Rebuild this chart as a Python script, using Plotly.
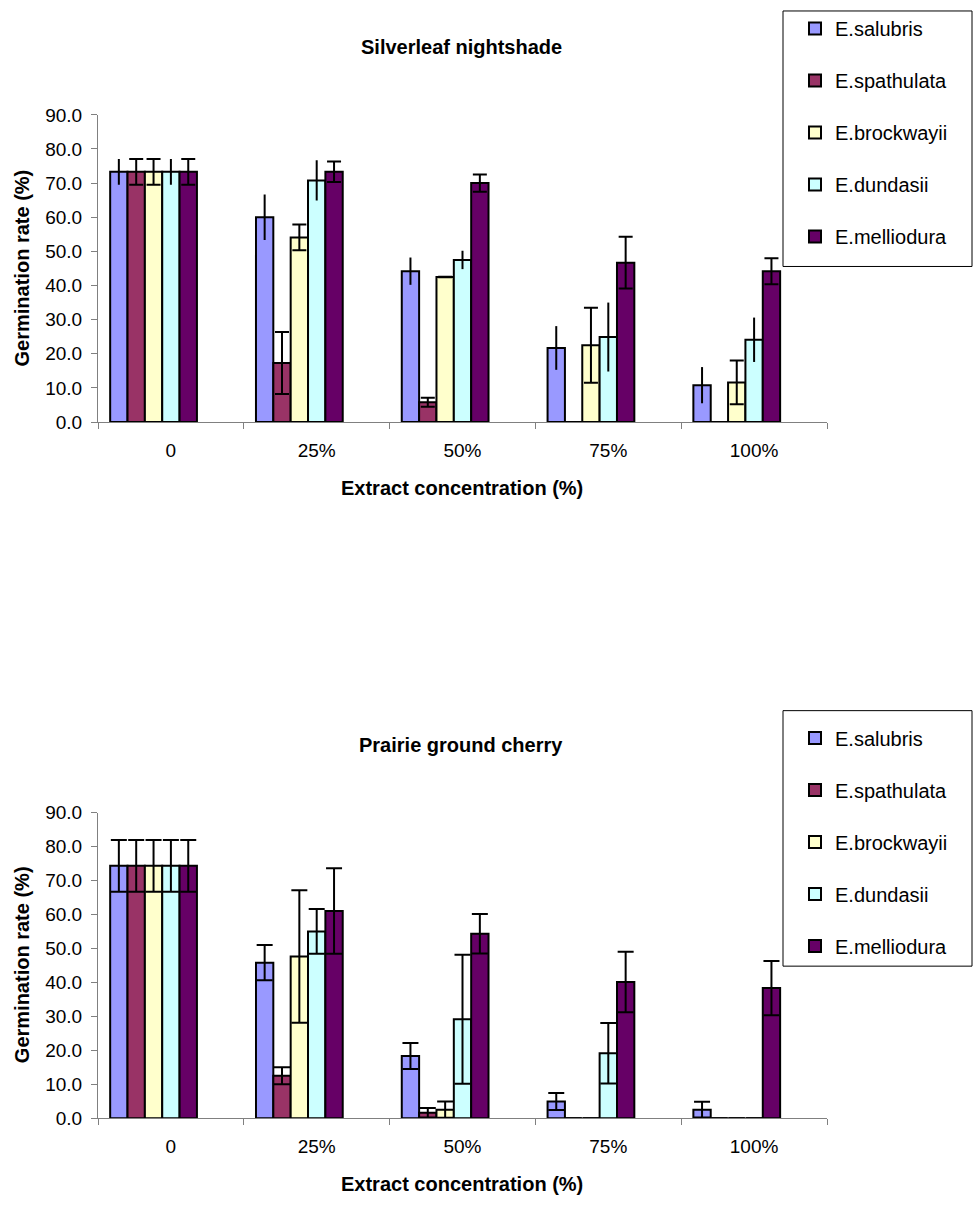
import plotly.graph_objects as go

W, H = 973, 1212

categories = ["0", "25%", "50%", "75%", "100%"]
species = ["E.salubris", "E.spathulata", "E.brockwayii", "E.dundasii", "E.melliodura"]
colors = ["#9999FF", "#993366", "#FFFFCC", "#CCFFFF", "#660066"]

# Silverleaf nightshade: mean germination rate (%) and error per extract concentration
sn_salubris = [73.3, 60.0, 44.2, 21.7, 10.8]
sn_spathulata = [73.3, 17.3, 5.8, 0.0, 0.0]
sn_brockwayii = [73.3, 54.1, 42.5, 22.5, 11.6]
sn_dundasii = [73.3, 70.8, 47.5, 24.9, 24.1]
sn_melliodura = [73.3, 73.3, 70.0, 46.7, 44.2]

sn_salubris_err = [3.8, 6.7, 4.0, 6.4, 5.3]
sn_spathulata_err = [3.8, 9.1, 1.3, 0.0, 0.0]
sn_brockwayii_err = [3.8, 3.8, 0.1, 11.0, 6.4]
sn_dundasii_err = [3.8, 5.9, 2.7, 10.1, 6.5]
sn_melliodura_err = [3.8, 3.0, 2.5, 7.6, 3.8]

# Prairie ground cherry
pg_salubris = [74.3, 45.8, 18.3, 4.9, 2.5]
pg_spathulata = [74.3, 12.5, 1.6, 0.0, 0.0]
pg_brockwayii = [74.3, 47.6, 2.5, 0.0, 0.0]
pg_dundasii = [74.3, 55.0, 29.1, 19.1, 0.0]
pg_melliodura = [74.3, 61.0, 54.3, 40.1, 38.3]

pg_salubris_err = [7.6, 5.2, 3.8, 2.5, 2.3]
pg_spathulata_err = [7.6, 2.5, 1.4, 0.0, 0.0]
pg_brockwayii_err = [7.6, 19.5, 2.4, 0.0, 0.0]
pg_dundasii_err = [7.6, 6.6, 19.0, 8.9, 0.0]
pg_melliodura_err = [7.6, 12.6, 5.8, 8.9, 8.0]

sn_values = [sn_salubris, sn_spathulata, sn_brockwayii, sn_dundasii, sn_melliodura]
sn_errors = [sn_salubris_err, sn_spathulata_err, sn_brockwayii_err, sn_dundasii_err, sn_melliodura_err]
pg_values = [pg_salubris, pg_spathulata, pg_brockwayii, pg_dundasii, pg_melliodura]
pg_errors = [pg_salubris_err, pg_spathulata_err, pg_brockwayii_err, pg_dundasii_err, pg_melliodura_err]

# error-bar cap half-widths per series (px)
sn_caps = [0, 7, 7, 0, 7]
pg_caps = [8, 8, 8, 8, 8]

FONT = "Arial, Liberation Sans, sans-serif"
BAR_W = 0.119          # bar width in category units (7 slots per group)
FIRST_OFF = -3.5 * BAR_W

fig = go.Figure()


def add_panel(values, errors, caps, xa, ya, legend):
    for i, name in enumerate(species):
        fig.add_trace(go.Bar(
            x=categories, y=values[i], name=name,
            xaxis=xa, yaxis=ya, legend=legend,
            legendgroup=legend + name,
            width=BAR_W, offset=FIRST_OFF + i * BAR_W,
            marker=dict(color=colors[i], line=dict(color="black", width=2)),
            error_y=dict(type="data", array=errors[i], symmetric=True,
                         color="black", thickness=2, width=caps[i]),
        ))


add_panel(sn_values, sn_errors, sn_caps, "x", "y", "legend")
add_panel(pg_values, pg_errors, pg_caps, "x2", "y2", "legend2")

x_dom = [98 / W, 827 / W]
top_dom = [1 - 419.3 / H, 1 - 106.7 / H]
bot_dom = [1 - 1127.7 / H, 1 - 816.7 / H]

xaxis_style = dict(
    type="category", range=[-0.5, 4.5], domain=x_dom,
    showline=True, linecolor="#808080", linewidth=1,
    ticks="outside", tickson="boundaries", ticklen=6, tickcolor="#808080",
    ticklabelstandoff=11,
    tickfont=dict(family=FONT, size=19, color="black"),
    showgrid=False, zeroline=False, fixedrange=True,
)
yaxis_style = dict(
    range=[0, 90], dtick=10, tick0=0, tickformat=".1f",
    showline=True, linecolor="#808080", linewidth=1,
    ticks="outside", ticklen=6, tickcolor="#808080",
    ticklabelstandoff=5,
    tickfont=dict(family=FONT, size=19, color="black"),
    showgrid=False, zeroline=False, fixedrange=True,
)

legend_style = dict(
    bgcolor="rgba(0,0,0,0)", borderwidth=0,
    font=dict(family=FONT, size=20, color="black"),
    xanchor="left", yanchor="top", tracegroupgap=23,
    itemclick=False, itemdoubleclick=False,
)


def ann(text, x, y, size, angle=0):
    return dict(text=text, x=x / W, y=1 - y / H, xref="paper", yref="paper",
                showarrow=False, textangle=angle, xanchor="center", yanchor="middle",
                font=dict(family=FONT, size=size, color="black"))


fig.update_layout(
    width=W, height=H, margin=dict(l=0, r=0, t=0, b=0),
    paper_bgcolor="white", plot_bgcolor="white",
    barmode="overlay", showlegend=True,
    xaxis=dict(xaxis_style, anchor="y"),
    yaxis=dict(yaxis_style, domain=top_dom, anchor="x"),
    xaxis2=dict(xaxis_style, anchor="y2"),
    yaxis2=dict(yaxis_style, domain=bot_dom, anchor="x2"),
    legend=dict(legend_style, x=795 / W, y=1 + 1 / H),
    legend2=dict(legend_style, x=795 / W, y=1 - 721 / H),
    shapes=[
        dict(type="rect", xref="paper", yref="paper", layer="below",
             x0=783 / W, x1=972 / W, y0=1 - 261 / H, y1=1 - 1 / H,
             line=dict(color="black", width=1), fillcolor="white"),
        dict(type="rect", xref="paper", yref="paper", layer="below",
             x0=783 / W, x1=972 / W, y0=1 - 973 / H, y1=1 - 713 / H,
             line=dict(color="black", width=1), fillcolor="white"),
    ],
    annotations=[
        ann("<b>Silverleaf nightshade</b>", 461, 38, 20),
        ann("<b>Extract concentration (%)</b>", 462, 486, 20),
        ann("<b>Germination rate (%)</b>", 22, 263, 20, -90),
        ann("<b>Prairie ground cherry</b>", 461, 748, 20),
        ann("<b>Extract concentration (%)</b>", 462, 1195, 20),
        ann("<b>Germination rate (%)</b>", 22, 972, 20, -90),
    ],
)

fig.write_html("out.html")
